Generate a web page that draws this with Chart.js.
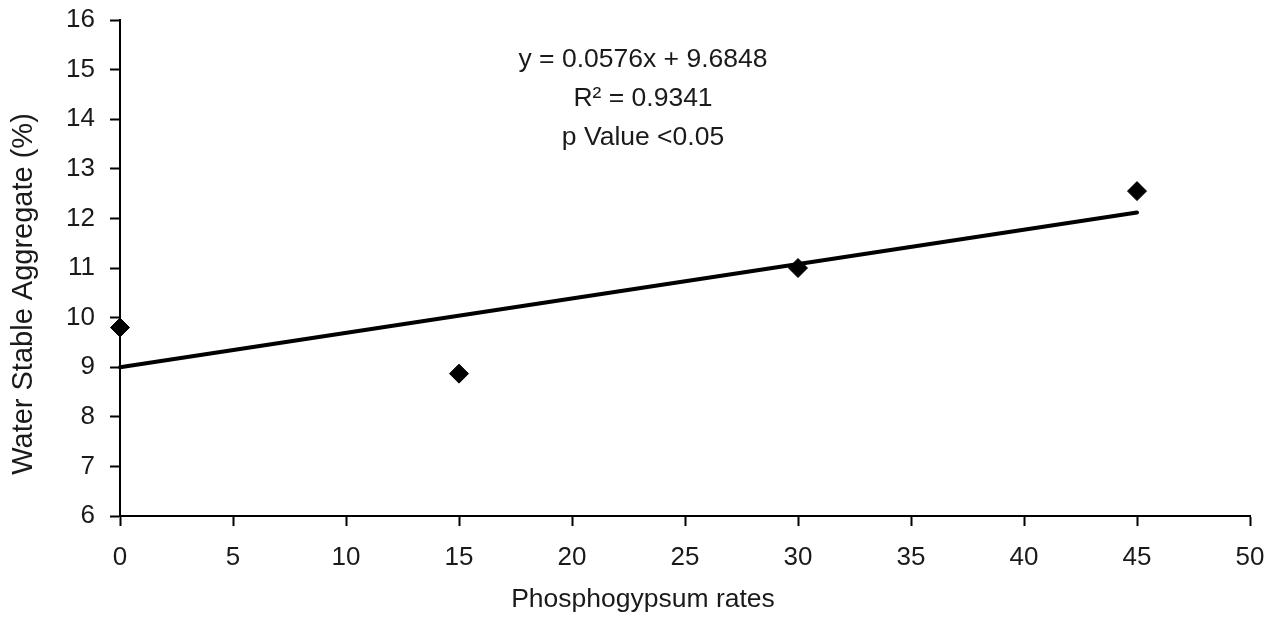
<!DOCTYPE html>
<html>
<head>
<meta charset="utf-8">
<script src="https://cdn.jsdelivr.net/npm/chart.js@4"></script>
<style>
  html, body { margin: 0; padding: 0; background: #fff; }
  #wrap { width: 1275px; height: 617px; }
</style>
</head>
<body>
<div id="wrap"><canvas id="chart" width="1275" height="617"></canvas></div>
<script>
// phosphogypsum rate vs water stable aggregate
const rates = [0, 15, 30, 45];
const wsa = [9.8, 8.87, 11.0, 12.55];
// trend line as drawn in the figure
const trendX = [0, 45];
const trendY = [9.0, 12.12];
const notes = ["y = 0.0576x + 9.6848", "R\u00B2 = 0.9341", "p Value <0.05"];
const xTitle = "Phosphogypsum rates";
const yTitle = "Water Stable Aggregate (%)";

const FONT = "'Liberation Sans', Arial, sans-serif";
const INK = "#1a1a1a";

const textPlugin = {
  id: "notes",
  afterDraw(chart) {
    const ctx = chart.ctx;
    const cx = 643;
    ctx.save();
    ctx.fillStyle = INK;
    ctx.font = "26.5px " + FONT;
    ctx.textAlign = "center";
    ctx.textBaseline = "middle";
    notes.forEach((t, i) => ctx.fillText(t, cx, 60 + i * 39));
    ctx.fillText(xTitle, cx, 600);
    // y title, rotated
    ctx.translate(24, 294);
    ctx.rotate(-Math.PI / 2);
    ctx.font = "29px " + FONT;
    ctx.fillText(yTitle, 0, 0);
    ctx.restore();
  },
};

new Chart(document.getElementById("chart"), {
  type: "scatter",
  data: {
    datasets: [
      {
        label: "Trend",
        data: trendX.map((x, i) => ({ x: x, y: trendY[i] })),
        showLine: true,
        borderColor: "#000",
        borderWidth: 4,
        pointRadius: 0,
        borderCapStyle: "round",
        clip: false,
      },
      {
        label: "WSA",
        data: rates.map((x, i) => ({ x: x, y: wsa[i] })),
        pointStyle: "rectRot",
        pointRadius: 9.5,
        backgroundColor: "#000",
        borderColor: "#000",
        borderWidth: 1,
        clip: false,
      },
    ],
  },
  options: {
    responsive: false,
    animation: false,
    layout: { padding: 0 },
    plugins: {
      legend: { display: false },
      tooltip: { enabled: false },
    },
    scales: {
      x: {
        type: "linear",
        min: 0,
        max: 50,
        ticks: { stepSize: 5, color: INK, font: { family: FONT, size: 26 }, padding: 16 },
        grid: { drawOnChartArea: false, drawTicks: true, tickLength: 10, tickColor: "#000", tickWidth: 2 },
        border: { color: "#000", width: 2 },
        afterFit(scale) {
          scale.height = 101;
          scale.paddingRight = 25;
        },
      },
      y: {
        type: "linear",
        min: 6,
        max: 16,
        ticks: { stepSize: 1, color: INK, font: { family: FONT, size: 26 }, padding: 15 },
        grid: { drawOnChartArea: false, drawTicks: true, tickLength: 10, tickColor: "#000", tickWidth: 2 },
        border: { color: "#000", width: 2 },
        afterFit(scale) {
          scale.width = 120;
          scale.paddingTop = 20;
        },
      },
    },
  },
  plugins: [textPlugin],
});
</script>
</body>
</html>
